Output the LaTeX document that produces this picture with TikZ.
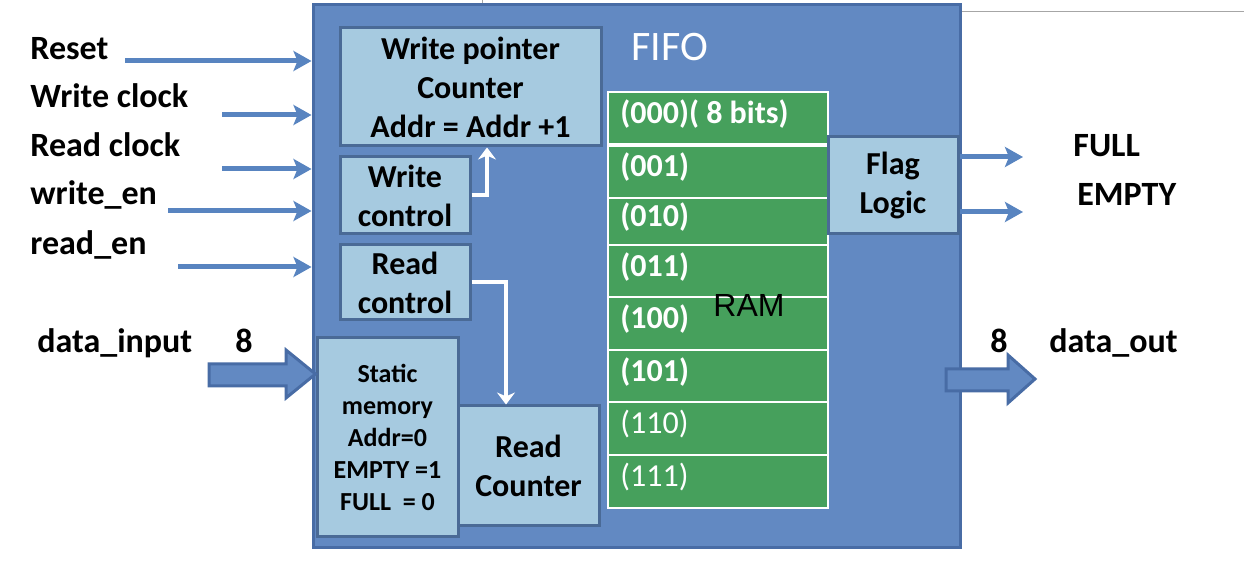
\documentclass[tikz,border=0pt]{standalone}
\usepackage{fontspec}
\setmainfont{Carlito}
\newfontfamily\arialfont{Liberation Sans}
\usetikzlibrary{arrows.meta}

\definecolor{fifofill}{RGB}{98,137,194}
\definecolor{fifoline}{RGB}{72,108,165}
\definecolor{boxfill}{RGB}{166,202,224}
\definecolor{boxline}{RGB}{74,106,150}
\definecolor{ramgreen}{RGB}{70,160,92}
\definecolor{sigblue}{RGB}{88,132,192}

\tikzset{
  blk/.style={draw=boxline, line width=1.5pt, fill=boxfill, align=center, inner sep=0pt,
    font=\bfseries\fontsize{16}{19.5}\selectfont},
  siglabel/.style={anchor=base west, inner sep=0pt, font=\bfseries\fontsize{17}{20}\selectfont},
  sigarrow/.style={draw=sigblue, line width=2.5pt, -{Stealth[length=9pt,width=10pt,inset=2pt]}},
  ctrlarrow/.style={draw=white, line width=2pt, -{Stealth[length=6pt,width=9pt]}},
  busarrow/.style={fill=fifofill, draw=fifoline, line width=1.5pt, line join=miter},
  ramrow/.style={draw=white, line width=0.8pt, fill=ramgreen},
  rowtext/.style={anchor=west, text=white, inner sep=0pt, font=\bfseries\fontsize{16}{19}\selectfont}
}

\begin{document}
\begin{tikzpicture}[x=0.5pt,y=-0.5pt]
\useasboundingbox (0,0) rectangle (1244,577);

% thin line behind the block
\draw[gray!70, line width=0.5pt] (482,0) -- (482,12) -- (1244,12);

% the FIFO block
\node[draw=fifoline, line width=1.5pt, fill=fifofill, minimum width=323.5pt, minimum height=271.5pt,
  inner sep=0pt] (fifo) at (636.5,276.5) {};
\node[text=white, font=\fontsize{21}{24}\selectfont] (fifotitle) at (670,47) {FIFO};

% RAM rows
\foreach \top/\bot/\name/\txt in {92/145/r0/{(000)( 8 bits)}, 145/198/r1/{(001)}, 198/245/r2/{(010)},
    245/297/r3/{(011)}, 297/350/r4/{(100)}, 350/402/r5/{(101)}}{
  \draw[ramrow] (608,\top) rectangle (828,\bot);
  \node[rowtext] (\name) at (620,{(\top+\bot)/2-4}) {\txt};
}
\foreach \top/\bot/\name/\txt in {402/455/r6/{(110)}, 455/508/r7/{(111)}}{
  \draw[ramrow] (608,\top) rectangle (828,\bot);
  \node[rowtext, font=\fontsize{16}{19}\selectfont] (\name) at (620,{(\top+\bot)/2-4}) {\txt};
}
\draw[white, line width=2pt] (608,145) -- (828,145);
\node[font=\arialfont\fontsize{16}{19}\selectfont] (ram) at (749,305) {RAM};

% inner blocks
\node[blk, minimum width=130.5pt, minimum height=59pt] (wpc) at (470.5,87)
  {Write pointer\\Counter\\Addr = Addr +1};
\node[blk, minimum width=65pt, minimum height=38.5pt] (wctl) at (405,195.5) {Write\\control};
\node[blk, minimum width=65pt, minimum height=37.5pt] (rctl) at (405,282.5) {Read\\control};
\node[blk, minimum width=70.5pt, minimum height=99.5pt, font=\bfseries\fontsize{13}{16}\selectfont]
  (smem) at (387.5,437.5) {Static\\memory\\Addr=0\\EMPTY =1\\FULL~~= 0};
\node[blk, minimum width=70.5pt, minimum height=60pt] (rcnt) at (528.5,466) {Read\\Counter};
\node[blk, minimum width=65pt, minimum height=48.5pt] (flag) at (893,185.5) {Flag\\Logic};

% control paths
\draw[ctrlarrow] (wctl.east) -| ([xshift=8.25pt]wpc.south);
\draw[ctrlarrow] (rctl.east) -| ([xshift=-11.25pt]rcnt.north);

% input signals
\node[siglabel] (lreset) at (30,60) {Reset};
\node[siglabel] (lwclk) at (30,108) {Write clock};
\node[siglabel] (lrclk) at (30,157) {Read clock};
\node[siglabel] (lwen) at (30,205) {write\_en};
\node[siglabel] (lren) at (30,255) {read\_en};
\coordinate (sreset) at (125,61);
\coordinate (swclk) at (222,115);
\coordinate (srclk) at (222,169);
\coordinate (swen) at (168,211);
\coordinate (sren) at (178,267);
\foreach \s in {sreset,swclk,srclk,swen,sren}
  \draw[sigarrow] (\s) -- (\s -| fifo.west);

% output flags
\node[siglabel] (lfull) at (1073,157) {FULL};
\node[siglabel] (lempty) at (1077,206) {EMPTY};
\coordinate (efull) at (1023,157);
\coordinate (eempty) at (1023,212);
\draw[sigarrow] (efull -| flag.east) -- (efull);
\draw[sigarrow] (eempty -| flag.east) -- (eempty);

% data buses
\node[siglabel] (ldin) at (37,353) {data\_input};
\node[siglabel] (ldinw) at (235,353) {8};
\node[siglabel] (ldoutw) at (990,353) {8};
\node[siglabel] (ldout) at (1049,353) {data\_out};
\draw[busarrow] (209,364) -- (286,364) -- (286,350) -- (smem.west |- 0,374) -- (286,398)
  -- (286,386) -- (209,386) -- cycle;
\draw[busarrow] (946,369) -- (1008,369) -- (1008,355) -- (1035,379) -- (1008,403)
  -- (1008,391) -- (946,391) -- cycle;
\end{tikzpicture}
\end{document}
